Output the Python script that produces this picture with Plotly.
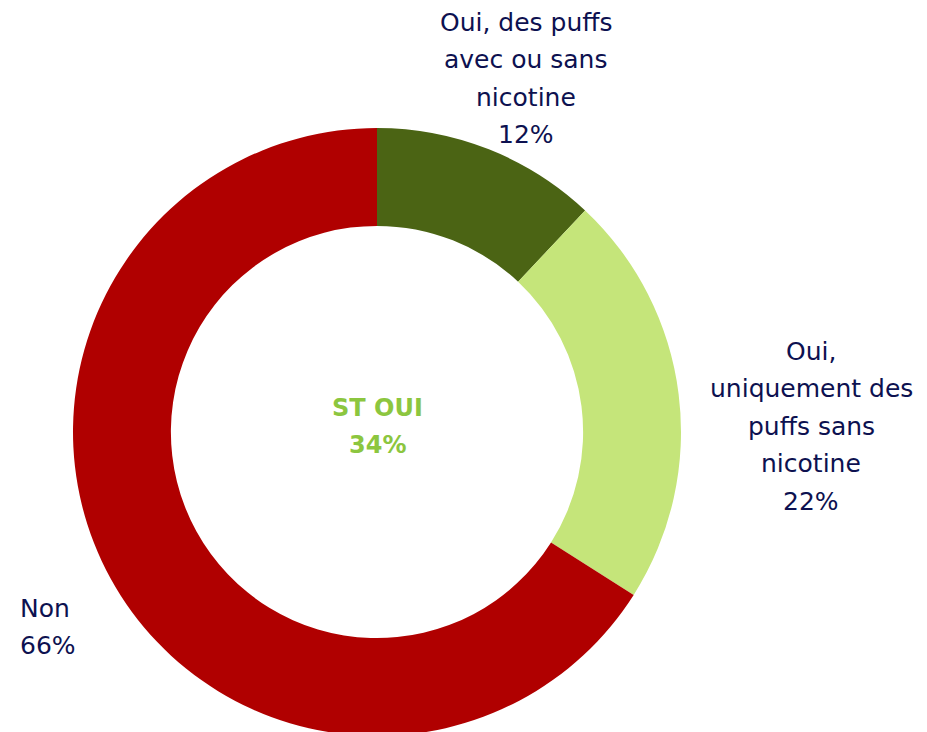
import plotly.graph_objects as go

categories = ["Oui, des puffs avec ou sans nicotine", "Oui, uniquement des puffs sans nicotine", "Non"]
values = [12, 22, 66]
colors = ["#4b6414", "#c5e57a", "#b00000"]
label_lines = [
    ["Oui, des puffs", "avec ou sans", "nicotine", "12%"],
    ["Oui,", "uniquement des", "puffs sans", "nicotine", "22%"],
    ["Non", "66%"],
]
center_lines = ["ST OUI", "34%"]

W, H = 927, 732
off = 8  # page body margin
cx, cy, r = 377 - off, 432 - off, 304

fig = go.Figure(go.Pie(
    labels=categories, values=values, sort=False, direction="clockwise", rotation=0,
    hole=0.678, marker=dict(colors=colors, line=dict(width=0)),
    textinfo="none", hoverinfo="label+percent", showlegend=False,
    domain=dict(x=[(cx - r) / W, (cx + r) / W], y=[(H - cy - r) / H, (H - cy + r) / H]),
))

font_family = "DejaVu Sans, sans-serif"
navy = "#0d1150"
spacing = 37.6
anchors = [(526, 22, "center"), (811, 351, "center"), (18, 608, "left")]
ann = []
for lines, (x, y0, align) in zip(label_lines, anchors):
    for i, t in enumerate(lines):
        ann.append(dict(x=(x - off) / W, y=1 - (y0 - off + i * spacing) / H, xref="paper", yref="paper",
                        text=t, showarrow=False, xanchor=align, yanchor="middle",
                        font=dict(family=font_family, size=25, color=navy)))
for i, t in enumerate(center_lines):
    ann.append(dict(x=cx / W, y=1 - (408 - off + i * 37) / H, xref="paper", yref="paper",
                    text="<b>" + t + "</b>", showarrow=False, xanchor="center", yanchor="middle",
                    font=dict(family=font_family, size=24, color="#8cc63f")))

fig.update_layout(width=W, height=H, margin=dict(l=0, r=0, t=0, b=0),
                  paper_bgcolor="white", plot_bgcolor="white", annotations=ann)
fig.write_html("out.html")
